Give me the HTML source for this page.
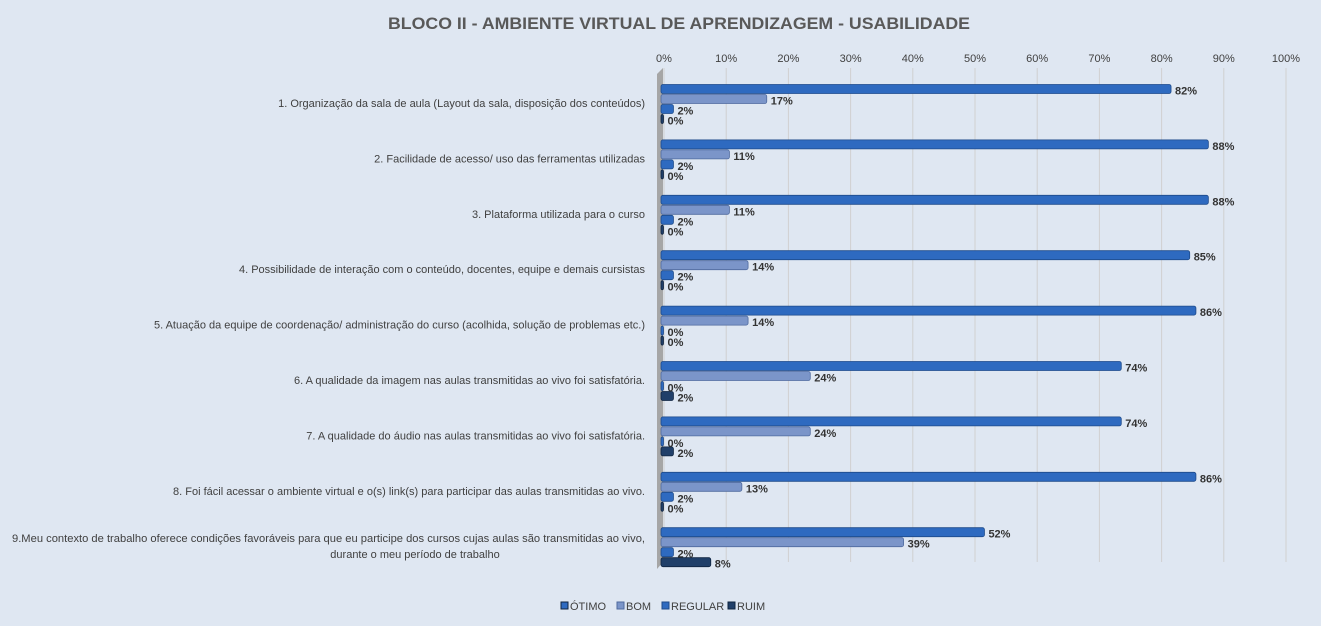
<!DOCTYPE html>
<html><head><meta charset="utf-8"><style>
body{margin:0;background:#dfe7f2;}
svg{display:block;font-family:"Liberation Sans",sans-serif;}
</style></head><body>
<svg id="c" width="1321" height="626">
<rect width="1321" height="626" fill="#dfe7f2"/>
<text x="679" y="29" text-anchor="middle" font-size="17" font-weight="bold" fill="#595959" textLength="582" lengthAdjust="spacingAndGlyphs">BLOCO II - AMBIENTE VIRTUAL DE APRENDIZAGEM - USABILIDADE</text>
<g id="grid"></g><g id="bars"></g><g id="labels"></g>
</svg>
<script>
const categories=["1. Organização da sala de aula (Layout da sala, disposição dos conteúdos)","2. Facilidade de acesso/ uso das ferramentas utilizadas","3. Plataforma utilizada para o curso","4. Possibilidade de interação com o conteúdo, docentes, equipe e demais cursistas","5. Atuação da equipe de coordenação/ administração do curso (acolhida, solução de problemas etc.)","6. A qualidade da imagem nas aulas transmitidas ao vivo foi satisfatória.","7. A qualidade do áudio nas aulas transmitidas ao vivo foi satisfatória.","8. Foi fácil acessar o ambiente virtual e o(s) link(s) para participar das aulas transmitidas ao vivo.","9.Meu contexto de trabalho oferece condições favoráveis para que eu participe dos cursos cujas aulas são transmitidas ao vivo,|durante o meu período de trabalho"];
const otimo=[82,88,88,85,86,74,74,86,52];
const bom=[17,11,11,14,14,24,24,13,39];
const regular=[2,2,2,2,0,0,0,2,2];
const ruim=[0,0,0,0,0,2,2,0,8];
const ticks=[0,10,20,30,40,50,60,70,80,90,100];
const seriesNames=["ÓTIMO","BOM","REGULAR","RUIM"];
const NS="http://www.w3.org/2000/svg";
const x0=661,pxPer=6.22;
const xs=v=>x0+v*pxPer;
const yGroup=i=>89+i*55.4;
function mk(t,a,p){const e=document.createElementNS(NS,t);for(const k in a)e.setAttribute(k,a[k]);p.appendChild(e);return e;}
const grid=document.getElementById('grid'),bars=document.getElementById('bars'),labels=document.getElementById('labels');
const wall=mk('path',{d:`M${x0-4},74 L${x0+2},68 L${x0+2},562 L${x0-4},569 Z`,fill:'#a6a6a6'},grid);


ticks.forEach(t=>{
 const l=mk('line',{x1:xs(t)+3,y1:68,x2:xs(t)+3,y2:562,stroke:'#d0d0d0','stroke-width':1},grid);
 
 
 const tx=mk('text',{x:xs(t)+3,y:62,'text-anchor':'middle','font-size':11,fill:'#404040'},grid);
 tx.textContent=t+'%';
 
 
});
const series=[otimo,bom,regular,ruim];
const fills=['#2e6ac0','#7b95c9','#2e6ac0','#203f69'];
const strokes=['#1d4a8a','#4f6a9e','#1d4a8a','#0f2440'];
categories.forEach((c,i)=>{
 const yc=yGroup(i);
 series.forEach((s,k)=>{
  const y=yc+k*10-4.5,w=Math.max(s[i]*pxPer,2.5);
  const r=mk('rect',{x:x0,y:y,width:w,height:9,rx:2,fill:fills[k],stroke:strokes[k],'stroke-width':0.8},bars);
  
  
  const t=mk('text',{x:x0+w+4,y:y+10,'font-size':11,'font-weight':'bold',fill:'#333'},labels);
  t.textContent=s[i]+'%';
  
  
 });
 const lines=c.split('|');
 const ty=yc+18-(lines.length-1)*8;
 lines.forEach((ln,j)=>{
  const a={x:645,y:ty+j*16,'text-anchor':'end','font-size':11,fill:'#404040'};
  if(lines.length>1&&j==0){a.textLength=633;a.lengthAdjust='spacingAndGlyphs';}
  if(lines.length>1&&j==1){a.x=415;a['text-anchor']='middle';}
  const t=mk('text',a,labels);
  t.textContent=ln;
  
  
 });
});
const lx=[561,617,662,728];
seriesNames.forEach((n,k)=>{
 const r=mk('rect',{x:lx[k],y:602,width:7,height:7,fill:fills[k],stroke:k==0?'#0f2440':strokes[k]},labels);
 
 
 const t=mk('text',{x:lx[k]+9,y:610,'font-size':11,fill:'#404040'},labels);
 t.textContent=n;
 
 
});
</script>
</body></html>
